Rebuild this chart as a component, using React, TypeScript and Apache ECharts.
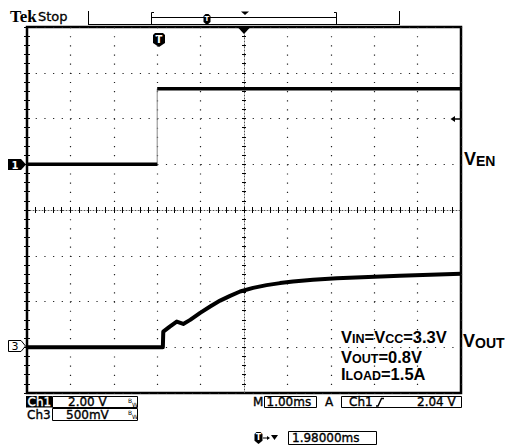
import React, { useEffect, useRef } from "react";
import * as echarts from "echarts";

// Horizontal: 10 divisions at 1.00 ms/div (screen time, ms)
const timeMin = 0;
const timeMax = 10;
const msPerDiv = 1;

// Vertical graticule: 8 divisions, centre = 0
const divMin = -4;
const divMax = 4;

// Ch1 (VEN): 2.00 V/div, ground marker one division above centre
const ch1VoltsPerDiv = 2;
const ch1GroundDiv = 1;
const ch1Low: [number, number][] = [[0, 0], [3.0, 0]];
const ch1Edge: [number, number][] = [[3.0, 0], [3.0, 3.3]];
const ch1High: [number, number][] = [[3.0, 3.3], [10, 3.3]];

// Ch3 (VOUT): 500 mV/div, ground marker three divisions below centre
const ch3VoltsPerDiv = 0.5;
const ch3GroundDiv = -3;
const ch3Times = [0, 3.13, 3.14, 3.29, 3.45, 3.6, 3.76, 3.99, 4.22, 4.45, 4.68, 4.91, 5.21, 5.52, 5.83, 6.13, 6.59, 7.14, 8.59, 10];
const ch3Volts = [0, 0, 0.17, 0.226, 0.281, 0.255, 0.299, 0.376, 0.445, 0.51, 0.562, 0.609, 0.649, 0.679, 0.701, 0.718, 0.737, 0.755, 0.781, 0.803];

// Readouts
const ch1Scale = "2.00 V";
const ch3Scale = "500mV";
const timeScale = "1.00ms";
const triggerSource = "Ch1";
const triggerLevel = "2.04 V";
const triggerDelay = "1.98000ms";

const UI_FONT = "DejaVu Sans";
const LABEL_FONT = "Liberation Sans";

const frameTicks = (position: string, extra: any = {}) => ({
  type: "value",
  min: timeMin,
  max: timeMax,
  interval: msPerDiv,
  position,
  axisLine: { show: false },
  axisLabel: { show: false },
  axisTick: { show: true, inside: true, length: 3, lineStyle: { color: "#000", width: 1 } },
  minorTick: { show: true, splitNumber: 5, length: 3, lineStyle: { color: "#000", width: 1 } },
  splitLine: { show: false },
  ...extra,
});

const frameTicksY = (position: string, extra: any = {}) => ({
  type: "value",
  min: divMin,
  max: divMax,
  interval: 1,
  position,
  axisLine: { show: false },
  axisLabel: { show: false },
  axisTick: { show: true, inside: true, length: 3, lineStyle: { color: "#000", width: 1 } },
  minorTick: { show: true, splitNumber: 5, length: 3, lineStyle: { color: "#000", width: 1 } },
  splitLine: { show: false },
  ...extra,
});

const smallCaps = (big: number, small: number, lh: number) => ({
  b: { fontSize: big, fontWeight: "bold", fontFamily: LABEL_FONT, fill: "#000", verticalAlign: "bottom", lineHeight: lh },
  s: { fontSize: small, fontWeight: "bold", fontFamily: LABEL_FONT, fill: "#000", verticalAlign: "bottom", lineHeight: lh },
});

const uiText = (x: number, y: number, text: string, extra: any = {}) => ({
  type: "text",
  x,
  y,
  style: {
    text,
    fontFamily: UI_FONT,
    fontSize: 12,
    fill: "#000",
    stroke: extra.fill || "#000",
    lineWidth: 0.35,
    verticalAlign: "middle",
    ...extra,
  },
});

const box = (x: number, y: number, w: number, h: number) => ({
  type: "rect",
  shape: { x, y, width: w, height: h },
  style: { fill: "none", stroke: "#000", lineWidth: 1 },
});

// Bandwidth-limit glyph: a small "B" above-left of a small "W"
const bwMark = (x: number, y: number) => ({
  type: "text",
  x,
  y,
  style: {
    text: "{u|B}{d|W}",
    verticalAlign: "middle",
    rich: {
      u: { fontFamily: UI_FONT, fontSize: 6, fill: "#000", verticalAlign: "top", lineHeight: 10 },
      d: { fontFamily: UI_FONT, fontSize: 6, fill: "#000", verticalAlign: "bottom", lineHeight: 10 },
    },
  },
});

const triggerShield = (cx: number, top: number, w: number, h: number, fontSize: number) => [
  {
    type: "polygon",
    shape: {
      points: [
        [cx - w / 2, top + 2], [cx - w / 2 + 2, top], [cx + w / 2 - 2, top], [cx + w / 2, top + 2],
        [cx + w / 2, top + h * 0.72], [cx, top + h], [cx - w / 2, top + h * 0.72],
      ],
    },
    style: { fill: "#000" },
  },
  {
    type: "text",
    x: cx,
    y: top + h * 0.45,
    style: { text: "T", fontFamily: UI_FONT, fontWeight: "bold", fontSize, fill: "#fff", align: "center", verticalAlign: "middle" },
  },
];

export default function App() {
  const ref = useRef<HTMLDivElement>(null);

  useEffect(() => {
    if (!ref.current) return;
    const chart = echarts.init(ref.current, undefined, { renderer: "svg" });

    const ch3Data = ch3Times.map((t, i) => [t, ch3Volts[i]]);

    const option: any = {
      animation: false,
      backgroundColor: "#fff",
      grid: {
        left: 27,
        top: 27,
        width: 434,
        height: 366,
        show: true,
        backgroundColor: "#fff",
        borderColor: "#000",
        borderWidth: 2.5,
      },
      xAxis: [
        frameTicks("bottom", {
          splitLine: { show: true, lineStyle: { color: "#222", width: 1.2, type: [1.2, 7.95] } },
        }),
        frameTicks("top"),
        frameTicks("bottom", {
          offset: -183,
          axisLine: { show: true, lineStyle: { color: "#555", width: 1, type: [1, 2] } },
          axisTick: { show: true, inside: true, length: 2, lineStyle: { color: "#000" } },
          minorTick: { show: true, splitNumber: 5, length: 2, lineStyle: { color: "#000" } },
        }),
        frameTicks("bottom", {
          offset: -183,
          axisTick: { show: true, inside: false, length: 2, lineStyle: { color: "#000" } },
          minorTick: { show: true, splitNumber: 5, length: 2, lineStyle: { color: "#000" } },
        }),
      ],
      yAxis: [
        frameTicksY("left", {
          splitLine: { show: true, lineStyle: { color: "#222", width: 1.2, type: [1.2, 7.48] } },
        }),
        frameTicksY("right"),
        frameTicksY("left", {
          offset: -217,
          axisLine: { show: true, lineStyle: { color: "#555", width: 1, type: [1, 2] } },
          axisTick: { show: true, inside: true, length: 2, lineStyle: { color: "#000" } },
          minorTick: { show: true, splitNumber: 5, length: 2, lineStyle: { color: "#000" } },
        }),
        frameTicksY("left", {
          offset: -217,
          axisTick: { show: true, inside: false, length: 2, lineStyle: { color: "#000" } },
          minorTick: { show: true, splitNumber: 5, length: 2, lineStyle: { color: "#000" } },
        }),
        {
          type: "value",
          show: false,
          min: (divMin - ch1GroundDiv) * ch1VoltsPerDiv,
          max: (divMax - ch1GroundDiv) * ch1VoltsPerDiv,
        },
        {
          type: "value",
          show: false,
          min: (divMin - ch3GroundDiv) * ch3VoltsPerDiv,
          max: (divMax - ch3GroundDiv) * ch3VoltsPerDiv,
        },
      ],
      series: [
        {
          name: "VEN",
          type: "line",
          xAxisIndex: 0,
          yAxisIndex: 4,
          data: ch1Low,
          symbol: "none",
          lineStyle: { color: "#000", width: 3.5 },
          z: 5,
        },
        {
          name: "VEN edge",
          type: "line",
          xAxisIndex: 0,
          yAxisIndex: 4,
          data: ch1Edge,
          symbol: "none",
          lineStyle: { color: "#888", width: 1 },
          z: 4,
        },
        {
          name: "VEN high",
          type: "line",
          xAxisIndex: 0,
          yAxisIndex: 4,
          data: ch1High,
          symbol: "none",
          lineStyle: { color: "#000", width: 3.5 },
          z: 5,
        },
        {
          name: "VOUT",
          type: "line",
          xAxisIndex: 0,
          yAxisIndex: 5,
          data: ch3Data,
          symbol: "none",
          lineStyle: { color: "#000", width: 4, join: "round" },
          z: 5,
        },
      ],
      graphic: [
        // Header
        { type: "text", x: 10, y: 16, style: { text: "Tek", fontFamily: "Liberation Serif", fontWeight: "bold", fontSize: 17, fill: "#000", verticalAlign: "middle" } },
        { type: "text", x: 38, y: 16, style: { text: "Stop", fontFamily: UI_FONT, fontSize: 13, fill: "#000", stroke: "#000", lineWidth: 0.3, verticalAlign: "middle" } },
        // Record bar
        { type: "line", shape: { x1: 88.5, y1: 11, x2: 88.5, y2: 25 }, style: { stroke: "#000", lineWidth: 1 } },
        { type: "line", shape: { x1: 399.5, y1: 11, x2: 399.5, y2: 25 }, style: { stroke: "#000", lineWidth: 1 } },
        { type: "line", shape: { x1: 88, y1: 24.5, x2: 400, y2: 24.5 }, style: { stroke: "#000", lineWidth: 1 } },
        { type: "polyline", shape: { points: [[154, 12.5], [151.5, 12.5], [151.5, 24]] }, style: { stroke: "#000", lineWidth: 1, fill: "none" } },
        { type: "polyline", shape: { points: [[334, 12.5], [336.5, 12.5], [336.5, 24]] }, style: { stroke: "#000", lineWidth: 1, fill: "none" } },
        { type: "line", shape: { x1: 151.5, y1: 17.5, x2: 336.5, y2: 17.5 }, style: { stroke: "#000", lineWidth: 1 } },
        ...triggerShield(207, 14, 7, 11, 7),
        { type: "polygon", shape: { points: [[241, 11.5], [249, 11.5], [245, 15]] }, style: { fill: "#000" } },
        // Trigger position markers
        { type: "polygon", shape: { points: [[237.5, 27], [250.5, 27], [244, 34]] }, style: { fill: "#000" }, z: 10 },
        ...triggerShield(159, 33, 12, 14, 10),
        // Trigger level arrow
        { type: "line", shape: { x1: 453, y1: 119, x2: 460, y2: 119 }, style: { stroke: "#000", lineWidth: 1.5 }, z: 10 },
        { type: "polygon", shape: { points: [[450.5, 119], [455, 116], [455, 122]] }, style: { fill: "#000" }, z: 10 },
        // Channel ground markers
        { type: "polygon", shape: { points: [[8, 159], [21, 159], [26, 164.5], [21, 170], [8, 170]] }, style: { fill: "#000" } },
        { type: "text", x: 15, y: 165, style: { text: "1", fontFamily: UI_FONT, fontWeight: "bold", fontSize: 10, fill: "#fff", align: "center", verticalAlign: "middle" } },
        { type: "polygon", shape: { points: [[8.5, 340.5], [21, 340.5], [25.5, 346], [21, 351.5], [8.5, 351.5]] }, style: { fill: "#fff", stroke: "#000", lineWidth: 1 } },
        { type: "text", x: 15, y: 346.5, style: { text: "3", fontFamily: UI_FONT, fontSize: 11, fill: "#000", align: "center", verticalAlign: "middle" } },
        // Trace names
        { type: "text", x: 464, y: 168, style: { text: "{b|V}{s|EN}", rich: smallCaps(18, 14, 16), verticalAlign: "bottom" } },
        { type: "text", x: 463, y: 350, style: { text: "{b|V}{s|OUT}", rich: smallCaps(18, 14, 16), verticalAlign: "bottom" } },
        // Test conditions
        { type: "text", x: 341, y: 345, style: { text: "{b|V}{s|IN}{b|=V}{s|CC}{b|=3.3V}", rich: smallCaps(16.5, 12.5, 14), verticalAlign: "bottom" }, z: 10 },
        { type: "text", x: 341, y: 365, style: { text: "{b|V}{s|OUT}{b|=0.8V}", rich: smallCaps(16.5, 12.5, 14), verticalAlign: "bottom" }, z: 10 },
        { type: "text", x: 341, y: 382, style: { text: "{b|I}{s|LOAD}{b|=1.5A}", rich: smallCaps(16.5, 12.5, 14), verticalAlign: "bottom" }, z: 10 },
        // Readouts: channel scales
        { type: "rect", shape: { x: 26, y: 396, width: 26, height: 11.5 }, style: { fill: "#000" } },
        uiText(27.5, 402, "Ch1", { fill: "#fff" }),
        box(52.5, 396.5, 85, 11),
        uiText(68, 402, ch1Scale),
        bwMark(128, 402),
        uiText(27, 414.5, "Ch3"),
        box(52.5, 408.5, 85, 12),
        uiText(66, 414.5, ch3Scale),
        bwMark(128, 414.5),
        // Readouts: timebase and trigger
        uiText(253, 402, "M"),
        box(264.5, 396.5, 52, 11),
        uiText(266.5, 402, timeScale),
        uiText(325, 402, "A"),
        box(341.5, 396.5, 120, 11),
        uiText(349, 402, triggerSource),
        { type: "polyline", shape: { points: [[376, 406], [378, 406], [381.5, 398.5], [384, 398.5]] }, style: { stroke: "#000", lineWidth: 1.5, fill: "none" } },
        uiText(417, 402, triggerLevel),
        ...triggerShield(258.5, 432, 8, 12, 8),
        { type: "line", shape: { x1: 263, y1: 438, x2: 268, y2: 438 }, style: { stroke: "#000", lineWidth: 1 } },
        { type: "polygon", shape: { points: [[267, 436], [270, 438], [267, 440]] }, style: { fill: "#000" } },
        { type: "polygon", shape: { points: [[271, 435], [278, 435], [274.5, 440]] }, style: { fill: "#000" } },
        box(288.5, 431.5, 88, 13),
        uiText(292, 438, triggerDelay),
      ],
    };

    chart.setOption(option);
    return () => chart.dispose();
  }, []);

  return (
    <div
      ref={ref}
      style={{ position: "fixed", left: 0, top: 0, width: 505, height: 447, background: "#fff" }}
    />
  );
}
